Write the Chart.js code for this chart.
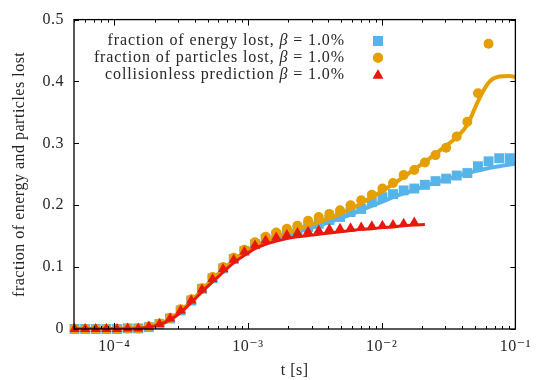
<!DOCTYPE html>
<html>
<head>
<meta charset="utf-8">
<script src="https://cdn.jsdelivr.net/npm/chart.js@4.4.0/dist/chart.umd.min.js"></script>
<style>
    html, body { margin: 0; padding: 0; background: #fff; }
    #wrap { width: 538px; height: 380px; }
</style>
</head>
<body>
<div id="wrap"><canvas id="myChart" width="538" height="380"></canvas></div>
<script>
//DATA (time in seconds, fractions lost)
const tMarkers = [5.05e-5, 6.06e-5, 7.27e-5, 8.73e-5, 1.048e-4, 1.259e-4, 1.511e-4, 1.814e-4, 2.178e-4, 2.615e-4,
    3.14e-4, 3.77e-4, 4.53e-4, 5.43e-4, 6.52e-4, 7.83e-4, 9.40e-4, 1.129e-3, 1.356e-3, 1.628e-3,
    1.954e-3, 2.346e-3, 2.817e-3, 3.382e-3, 4.06e-3, 4.88e-3, 5.85e-3, 7.03e-3, 8.44e-3, 1.013e-2,
    1.216e-2, 1.460e-2, 1.753e-2, 2.105e-2, 2.527e-2, 3.034e-2, 3.643e-2, 4.374e-2, 5.25e-2, 6.30e-2,
    7.57e-2, 9.08e-2];
const tCurve = [5.0e-5, 6.06e-5, 7.27e-5, 8.73e-5, 1.048e-4, 1.259e-4, 1.511e-4, 1.814e-4, 2.178e-4, 2.615e-4,
    3.14e-4, 3.77e-4, 4.53e-4, 5.43e-4, 6.52e-4, 7.83e-4, 9.40e-4, 1.129e-3, 1.356e-3, 1.628e-3,
    1.954e-3, 2.346e-3, 2.817e-3, 3.382e-3, 4.06e-3, 4.88e-3, 5.85e-3, 7.03e-3, 8.44e-3, 1.013e-2,
    1.216e-2, 1.460e-2, 1.753e-2, 2.105e-2, 2.527e-2, 3.034e-2, 3.643e-2, 4.374e-2, 5.25e-2, 6.30e-2,
    7.57e-2, 9.08e-2, 1.0e-1];

const energyLost = [0, 0, 0, 0, 0, 0.001, 0.001, 0.003, 0.008, 0.017, 0.030, 0.046, 0.065, 0.082, 0.098,
    0.113, 0.126, 0.137, 0.145, 0.151, 0.156, 0.160, 0.165, 0.170, 0.176, 0.181, 0.189, 0.194, 0.205, 0.213,
    0.218, 0.224, 0.227, 0.233, 0.239, 0.243, 0.248, 0.252, 0.263, 0.271, 0.276, 0.276];
const particlesLost = [0, 0, 0, 0, 0, 0.001, 0.001, 0.004, 0.009, 0.018, 0.032, 0.048, 0.066, 0.084, 0.100,
    0.115, 0.128, 0.140, 0.149, 0.156, 0.162, 0.167, 0.175, 0.181, 0.186, 0.192, 0.200, 0.208, 0.217, 0.227,
    0.236, 0.249, 0.257, 0.269, 0.281, 0.293, 0.311, 0.335, 0.381, 0.461];
const collisionless = [0, 0, 0, 0, 0, 0.001, 0.001, 0.004, 0.008, 0.017, 0.030, 0.046, 0.064, 0.081, 0.097,
    0.112, 0.125, 0.135, 0.143, 0.148, 0.152, 0.155, 0.157, 0.159, 0.161, 0.162, 0.163, 0.164, 0.166, 0.167,
    0.168, 0.170, 0.172];

const energyFit = [0, 0, 0, 0, 0, 0.001, 0.001, 0.003, 0.007, 0.015, 0.028, 0.044, 0.062, 0.079, 0.095,
    0.110, 0.122, 0.132, 0.140, 0.147, 0.152, 0.157, 0.162, 0.167, 0.173, 0.179, 0.185, 0.192, 0.199, 0.206,
    0.213, 0.219, 0.225, 0.231, 0.237, 0.242, 0.247, 0.252, 0.256, 0.260, 0.263, 0.266, 0.267];
const particlesFit = [0, 0, 0, 0, 0, 0.001, 0.001, 0.004, 0.008, 0.016, 0.029, 0.045, 0.063, 0.080, 0.096,
    0.111, 0.123, 0.134, 0.142, 0.149, 0.155, 0.161, 0.167, 0.173, 0.179, 0.186, 0.194, 0.203, 0.213, 0.223,
    0.234, 0.246, 0.258, 0.270, 0.283, 0.296, 0.310, 0.330, 0.368, 0.398, 0.408, 0.409, 0.407];
const collisionlessFit = [0, 0, 0, 0, 0, 0, 0.001, 0.003, 0.007, 0.015, 0.027, 0.043, 0.060, 0.076, 0.092,
    0.107, 0.119, 0.130, 0.137, 0.142, 0.146, 0.149, 0.151, 0.153, 0.155, 0.157, 0.159, 0.161, 0.162, 0.164,
    0.165, 0.167, 0.168, 0.169];

const legendLabels = [
    'fraction of energy lost, \u03B2 = 1.0%',
    'fraction of particles lost, \u03B2 = 1.0%',
    'collisionless prediction \u03B2 = 1.0%'
];
const xTickValues = [1e-4, 1e-3, 1e-2, 1e-1];
const xTickLabels = ['10\u207B\u2074', '10\u207B\u00B3', '10\u207B\u00B2', '10\u207B\u00B9'];
const yTickLabels = ['0', '0.1', '0.2', '0.3', '0.4', '0.5'];

//COLORS AND FONTS
const blue = '#56b4e9';
const orange = '#e69f00';
const red = '#e8190c';
const textColor = '#262626';
const serif = "'Liberation Serif', 'DejaVu Serif', serif";

const toPoints = (xs, ys) => ys.map((y, i) => ({ x: xs[i], y: y }));

//DRAW ONE LEGEND LINE RIGHT ALIGNED, BETA IN ITALIC
const drawLegendText = (ctx, text, right, y) => {
    const parts = text.split('\u03B2');
    const before = parts[0];
    const after = parts[1];
    const upright = '16px ' + serif;
    const italic = 'italic 16px ' + serif;
    ctx.font = upright;
    const wAfter = ctx.measureText(after).width;
    const wBefore = ctx.measureText(before).width;
    ctx.font = italic;
    const wBeta = ctx.measureText('\u03B2').width;
    let x = right - wAfter - wBeta - wBefore;
    ctx.textAlign = 'left';
    ctx.font = upright;
    ctx.fillText(before, x, y);
    x += wBefore;
    ctx.font = italic;
    ctx.fillText('\u03B2', x, y);
    x += wBeta;
    ctx.font = upright;
    ctx.fillText(after, x, y);
}

//GNUPLOT STYLE FRAME, MIRRORED TICKS AND LEGEND
const framePlugin = {
    id: 'frame',
    beforeDraw(chart) {
        chart.ctx.letterSpacing = '0.5px';
    },
    afterDraw(chart) {
        const ctx = chart.ctx;
        const area = chart.chartArea;
        const xs = chart.scales.x;
        const ys = chart.scales.y;
        ctx.save();
        ctx.strokeStyle = '#000';
        ctx.lineWidth = 1;
        ctx.beginPath();
        // minor x ticks
        for (let d = -5; d <= -2; d++) {
            for (let m = 2; m <= 9; m++) {
                const v = m * Math.pow(10, d);
                if (v < xs.min || v > xs.max) continue;
                const px = Math.round(xs.getPixelForValue(v)) + 0.5;
                ctx.moveTo(px, area.bottom); ctx.lineTo(px, area.bottom - 3);
                ctx.moveTo(px, area.top); ctx.lineTo(px, area.top + 3);
            }
        }
        // major x ticks
        xTickValues.forEach(v => {
            const px = Math.round(xs.getPixelForValue(v)) + 0.5;
            ctx.moveTo(px, area.bottom); ctx.lineTo(px, area.bottom - 6);
            ctx.moveTo(px, area.top); ctx.lineTo(px, area.top + 6);
        });
        // major y ticks
        for (let i = 0; i < yTickLabels.length; i++) {
            const py = Math.round(ys.getPixelForValue(i * 0.1)) + 0.5;
            ctx.moveTo(area.left, py); ctx.lineTo(area.left + 5, py);
            ctx.moveTo(area.right, py); ctx.lineTo(area.right - 5, py);
        }
        ctx.stroke();
        ctx.lineWidth = 1.3;
        ctx.strokeRect(area.left, area.top, area.right - area.left, area.bottom - area.top);

        // legend, text right aligned with marker on the right
        ctx.letterSpacing = '0.9px';
        ctx.textBaseline = 'middle';
        const markerSets = [0, 2, 4];
        for (let i = 0; i < legendLabels.length; i++) {
            const yy = 41 + i * 16.8;
            ctx.fillStyle = textColor;
            drawLegendText(ctx, legendLabels[i], 345, yy);
            const ds = chart.data.datasets[markerSets[i]];
            ctx.fillStyle = ds.backgroundColor;
            Chart.helpers.drawPoint(ctx, {
                pointStyle: ds.pointStyle,
                radius: ds.pointRadius,
                rotation: 0,
                borderWidth: 0
            }, 378, yy + (i == 2 ? 1 : 0));
            ctx.fill();
        }
        ctx.restore();
    }
};

const canvas = document.getElementById('myChart');
canvas.getContext('2d').letterSpacing = '0.5px';

new Chart(canvas, {
    type: 'scatter',
    data: {
        datasets: [
            {
                label: legendLabels[0],
                data: toPoints(tMarkers, energyLost),
                pointStyle: 'rect',
                pointRadius: 7,
                backgroundColor: blue,
                borderWidth: 0,
                showLine: false,
                clip: false,
                order: 6
            },
            {
                label: 'energy fit',
                data: toPoints(tCurve, energyFit),
                showLine: true,
                borderColor: blue,
                borderWidth: 4,
                pointRadius: 0,
                cubicInterpolationMode: 'monotone',
                order: 5
            },
            {
                label: legendLabels[1],
                data: toPoints(tMarkers, particlesLost),
                pointStyle: 'circle',
                pointRadius: 5,
                backgroundColor: orange,
                borderWidth: 0,
                showLine: false,
                clip: false,
                order: 4
            },
            {
                label: 'particles fit',
                data: toPoints(tCurve, particlesFit),
                showLine: true,
                borderColor: orange,
                borderWidth: 4,
                pointRadius: 0,
                cubicInterpolationMode: 'monotone',
                order: 3
            },
            {
                label: legendLabels[2],
                data: toPoints(tMarkers, collisionless),
                pointStyle: 'triangle',
                pointRadius: 6,
                backgroundColor: red,
                borderWidth: 0,
                showLine: false,
                clip: false,
                order: 2
            },
            {
                label: 'collisionless fit',
                data: toPoints(tCurve, collisionlessFit),
                showLine: true,
                borderColor: red,
                borderWidth: 3,
                pointRadius: 0,
                cubicInterpolationMode: 'monotone',
                order: 1
            }
        ]
    },
    options: {
        responsive: false,
        animation: false,
        layout: {
            padding: { top: 14, right: 15, bottom: 0, left: 0 }
        },
        plugins: {
            legend: { display: false },
            tooltip: { enabled: false }
        },
        scales: {
            x: {
                type: 'logarithmic',
                min: 5e-5,
                max: 0.1,
                grid: { display: false, drawTicks: false },
                border: { display: false },
                afterBuildTicks: (scale) => {
                    scale.ticks = xTickValues.map(v => ({ value: v, major: true }));
                },
                afterFit: (scale) => { scale.height = 51; },
                ticks: {
                    autoSkip: false,
                    maxRotation: 0,
                    padding: 8,
                    color: textColor,
                    font: { family: serif, size: 16 },
                    callback: (value) => xTickLabels[xTickValues.indexOf(value)]
                },
                title: {
                    display: true,
                    text: 't [s]',
                    color: textColor,
                    font: { family: serif, size: 16 },
                    padding: { top: 2, bottom: 0 }
                }
            },
            y: {
                min: 0,
                max: 0.5,
                grid: { display: false, drawTicks: false },
                border: { display: false },
                afterFit: (scale) => { scale.width = 74; },
                ticks: {
                    stepSize: 0.1,
                    padding: 10,
                    color: textColor,
                    font: { family: serif, size: 16 },
                    callback: (value) => yTickLabels[Math.round(value * 10)]
                },
                title: {
                    display: true,
                    text: 'fraction of energy and particles lost',
                    color: textColor,
                    font: { family: serif, size: 16 },
                    padding: { top: 10, bottom: 0 }
                }
            }
        }
    },
    plugins: [framePlugin]
});
</script>
</body>
</html>
